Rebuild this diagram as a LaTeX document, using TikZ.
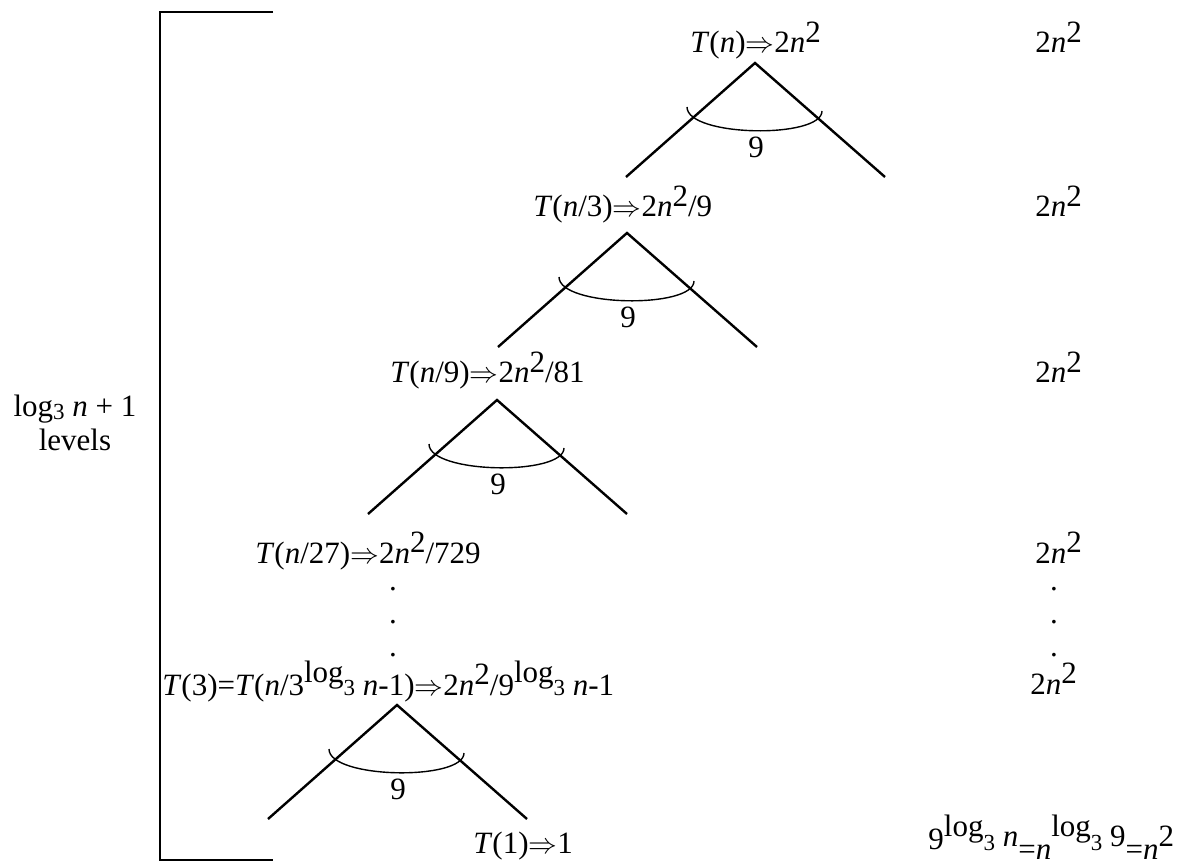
\documentclass[tikz,border=0pt]{standalone}
\usepackage{fontspec}
\setmainfont{Liberation Serif}
\newcommand\upsc[1]{\raisebox{.33em}{#1}}
\newcommand\lgsup{\raisebox{.4em}{log}\raisebox{.0em}{\fontsize{11.5}{10}\selectfont 3}}
\newcommand\arr{$\Rightarrow$}
\begin{document}
\begin{tikzpicture}[x=0.5pt,y=-0.5pt,
  lbl/.style={anchor=base west, inner sep=0pt, font=\fontsize{15.5}{18}\selectfont},
  dotlbl/.style={anchor=base, inner sep=0pt, font=\fontsize{15.5}{18}\selectfont},
  branch/.style={line width=1.2pt},
  arcline/.style={line width=0.7pt},
  bracket/.style={line width=1pt},
  ninelbl/.style={inner sep=0pt, font=\fontsize{15.5}{18}\selectfont}]
\useasboundingbox (0,0) rectangle (1186,865);
% bracket
\coordinate (bt) at (273,12);
\coordinate (btc) at (160,12);
\coordinate (bbc) at (160,860);
\coordinate (bb) at (273,860);
\draw[bracket] (bt) -- (btc) -- (bbc) -- (bb);
\node[inner sep=0pt, align=center, font=\fontsize{15.5}{18}\selectfont, anchor=base] (levels) at (75,450)
  {log\raisebox{-.12em}{\fontsize{11.5}{11}\selectfont 3} \textit{n} + 1\\[-1pt]levels};
% trees
\foreach \n/\x/\y in {0/755/63,1/627/233,2/497/400,4/397/705} {
  \coordinate (apex\n) at (\x,\y);
  \coordinate (l\n) at (\x-129,\y+114);
  \coordinate (r\n) at (\x+130,\y+114);
  \draw[branch] (l\n) -- (apex\n) -- (r\n);
  \coordinate (al\n) at (\x-68,\y+44);
  \coordinate (ar\n) at (\x+67,\y+48);
  \draw[arcline] (al\n) .. controls (\x-68,\y+74) and (\x+67,\y+76) .. (ar\n);
  \node[ninelbl] (nine\n) at (\x+1,\y+84) {9};
}
% level labels
\node[lbl] (t0) at (690,53) {\textit{T}(\textit{n})\arr2\textit{n}\upsc{2}};
\node[lbl] (t1) at (533,217) {\textit{T}(\textit{n}/3)\arr2\textit{n}\upsc{2}/9};
\node[lbl] (t2) at (390,383) {\textit{T}(\textit{n}/9)\arr2\textit{n}\upsc{2}/81};
\node[lbl] (t3) at (255,563) {\textit{T}(\textit{n}/27)\arr2\textit{n}\upsc{2}/729};
\node[lbl] (t4) at (162,695) {\textit{T}(3)=\textit{T}(\textit{n}/3\lgsup\ \textit{n}-1)\arr2\textit{n}\upsc{2}/9\lgsup\ \textit{n}-1};
\node[lbl] (t5) at (473,853) {\textit{T}(1)\arr1};
% dots
\node[dotlbl] (d1) at (393,590) {.};
\node[dotlbl] (d2) at (393,623) {.};
\node[dotlbl] (d3) at (393,656) {.};
\node[dotlbl] (e1) at (1054,590) {.};
\node[dotlbl] (e2) at (1054,623) {.};
\node[dotlbl] (e3) at (1054,656) {.};
% right column
\node[lbl] (c0) at (1035,53) {2\textit{n}\upsc{2}};
\node[lbl] (c1) at (1035,217) {2\textit{n}\upsc{2}};
\node[lbl] (c2) at (1035,383) {2\textit{n}\upsc{2}};
\node[lbl] (c3) at (1035,563) {2\textit{n}\upsc{2}};
\node[lbl] (c4) at (1030,694) {2\textit{n}\upsc{2}};
\node[lbl] (sum) at (928,849) {9\raisebox{.4em}{log}\raisebox{-.05em}{\fontsize{11.5}{10}\selectfont 3} \raisebox{.08em}{\textit{n}}\raisebox{-.33em}{=\textit{n}}\raisebox{.4em}{log}\raisebox{-.05em}{\fontsize{11.5}{10}\selectfont 3} \raisebox{.08em}{9}\raisebox{-.33em}{=\textit{n}}\raisebox{.08em}{2}};
\end{tikzpicture}
\end{document}
